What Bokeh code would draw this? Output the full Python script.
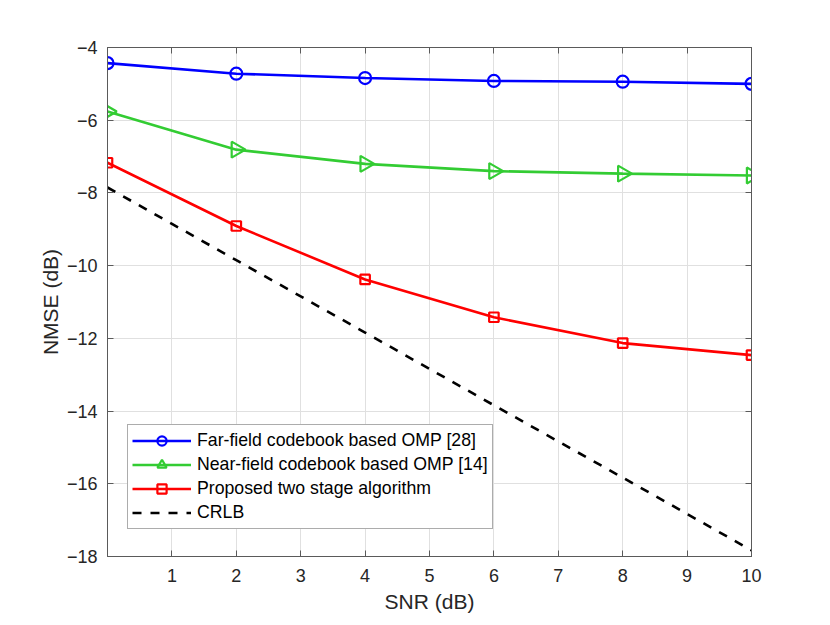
import numpy as np
from bokeh.plotting import figure
from bokeh.models import LinearAxis, Range1d, Legend, LegendItem, FixedTicker
from bokeh.embed import file_html
from bokeh.resources import INLINE

snr = [0, 2, 4, 6, 8, 10]
far_field = [-4.43, -4.72, -4.84, -4.92, -4.94, -5.00]
near_field = [-5.76, -6.81, -7.20, -7.40, -7.47, -7.52]
proposed = [-7.17, -8.91, -10.38, -11.42, -12.13, -12.46]
crlb = [-7.85, -9.85, -11.84, -13.84, -15.83, -17.83]

x_ticks = [1, 2, 3, 4, 5, 6, 7, 8, 9, 10]
y_ticks = [-18, -16, -14, -12, -10, -8, -6, -4]

FONT = "Liberation Sans"
TXT = "#262626"
AX = "#5a5a5a"

p = figure(width=822, height=617, output_backend="svg", toolbar_location=None,
           x_range=Range1d(0, 10), y_range=Range1d(-18, -4),
           min_border_left=107, min_border_right=71, min_border_top=47, min_border_bottom=61)
p.outline_line_color = AX
p.outline_line_width = 1
p.background_fill_color = "white"
p.border_fill_color = "white"

for ax in (p.xaxis[0], p.yaxis[0]):
    ax.major_tick_in = 6
    ax.major_tick_out = 0
    ax.minor_tick_line_color = None
    ax.axis_line_color = AX
    ax.major_tick_line_color = AX
    ax.major_label_text_font = FONT
    ax.major_label_text_font_size = "18px"
    ax.major_label_text_color = TXT
    ax.axis_label_text_font = FONT
    ax.axis_label_text_font_size = "21px"
    ax.axis_label_text_font_style = "normal"
    ax.axis_label_text_color = TXT

p.xaxis[0].ticker = FixedTicker(ticks=x_ticks)
p.yaxis[0].ticker = FixedTicker(ticks=y_ticks)
p.xaxis[0].axis_label = "SNR (dB)"
p.yaxis[0].axis_label = "NMSE (dB)"
p.xaxis[0].major_label_standoff = 12
p.yaxis[0].major_label_standoff = 10
p.xaxis[0].axis_label_standoff = 5
p.yaxis[0].axis_label_standoff = 2

top = LinearAxis(ticker=FixedTicker(ticks=x_ticks), major_label_standoff=0,
                 major_tick_in=6, major_tick_out=0, minor_tick_line_color=None,
                 axis_line_color=AX, major_tick_line_color=AX)
right = LinearAxis(ticker=FixedTicker(ticks=y_ticks), major_label_standoff=0,
                   major_tick_in=6, major_tick_out=0, minor_tick_line_color=None,
                   axis_line_color=AX, major_tick_line_color=AX)
top.major_label_overrides = {t: "" for t in x_ticks}
right.major_label_overrides = {t: "" for t in y_ticks}
p.add_layout(top, "above")
p.add_layout(right, "right")

p.xgrid.ticker = FixedTicker(ticks=x_ticks)
p.ygrid.ticker = FixedTicker(ticks=y_ticks)
p.grid.grid_line_color = "#e0e0e0"
p.grid.grid_line_width = 1

LW = 2.6
l1 = p.line(snr, far_field, line_color="#0000ff", line_width=LW)
m1 = p.scatter(snr, far_field, marker="circle", size=12, fill_color=None,
               line_color="#0000ff", line_width=2.2)
l2 = p.line(snr, near_field, line_color="#33cc33", line_width=LW)
m2 = p.scatter(snr, near_field, marker="triangle", angle=-np.pi / 2, size=16, fill_color=None,
               line_color="#33cc33", line_width=2.2)
l3 = p.line(snr, proposed, line_color="#ff0000", line_width=LW)
m3 = p.scatter(snr, proposed, marker="square", size=9.5, fill_color=None,
               line_color="#ff0000", line_width=2.2)
l4 = p.line(snr, crlb, line_color="black", line_width=LW, line_dash="9 9")

legend = Legend(items=[
    LegendItem(label="Far-field codebook based OMP [28]", renderers=[l1, m1]),
    LegendItem(label="Near-field codebook based OMP [14]", renderers=[l2, m2]),
    LegendItem(label="Proposed two stage algorithm", renderers=[l3, m3]),
    LegendItem(label="CRLB", renderers=[l4]),
], location=(20, 27))
legend.label_text_font = FONT
legend.label_text_font_size = "17.7px"
legend.label_text_color = "black"
legend.glyph_width = 59
legend.glyph_height = 23
legend.label_height = 20
legend.spacing = 1
legend.padding = 4
legend.margin = 0
legend.label_standoff = 6
legend.border_line_color = AX
legend.border_line_width = 1
legend.background_fill_alpha = 1
p.add_layout(legend, "center")

open("out.html", "w").write(file_html(p, INLINE))
